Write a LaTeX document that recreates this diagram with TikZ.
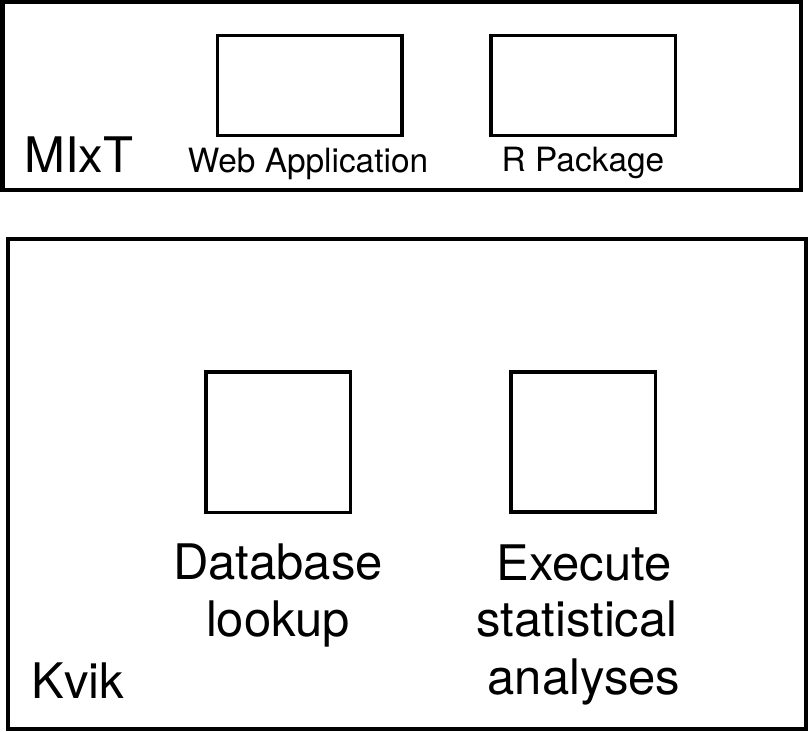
\documentclass[tikz,border=0pt]{standalone}
\usepackage{fontspec}
\setmainfont{TeX Gyre Heros}
\tikzset{
  outerbox/.style={draw,line width=2.2pt},
  innerbox/.style={draw,line width=1.9pt,inner sep=0pt},
  widebox/.style={innerbox,minimum width=92.25pt,minimum height=50pt},
  squarebox/.style={innerbox,minimum width=72.25pt,minimum height=70.25pt},
  biglabel/.style={font=\fontsize{24.5}{28.5}\selectfont,inner sep=0pt,anchor=base,align=center},
  smalllabel/.style={font=\fontsize{16.7}{19}\selectfont,inner sep=0pt,anchor=base},
}
\begin{document}
\begin{tikzpicture}[x=0.5pt,y=-0.5pt]
  \useasboundingbox (0,0) rectangle (809,732);
  % MIxT
  \draw[outerbox] (2.5,2) rectangle (801,190);
  \node[widebox] (webapp) at (309.75,85.5) {};
  \node[widebox] (rpkg) at (583.25,85.5) {};
  \node[biglabel,anchor=base west] (mixt) at (24,173) {MIxT};
  \node[smalllabel] (weblabel) at (308,173) {Web Application};
  \node[smalllabel] (rlabel) at (583,172) {R Package};
  % Kvik
  \draw[outerbox] (8,239) rectangle (806,729);
  \node[squarebox] (dblookup) at (278.25,442.25) {};
  \node[squarebox] (stats) at (583.25,442) {};
  \node[biglabel] (dblabel) at (278,637) {Database\\lookup};
  \node[biglabel] (statslabel) at (584,694) {Execute\\statistical\rule{7pt}{0pt}\\analyses};
  \node[biglabel,anchor=base west] (kvik) at (31,698) {Kvik};
\end{tikzpicture}
\end{document}
